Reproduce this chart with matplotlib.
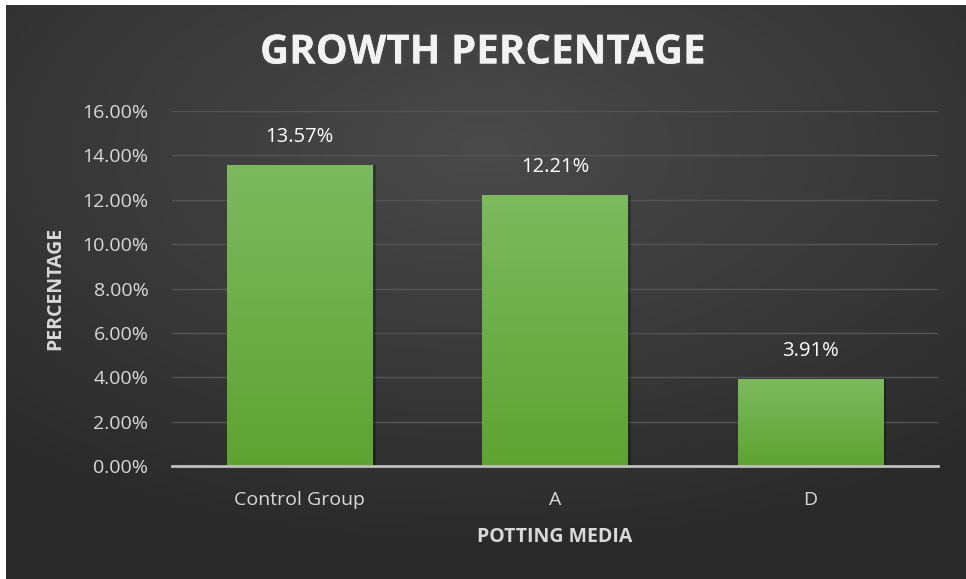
import numpy as np
import matplotlib.pyplot as plt
import matplotlib.patheffects as pe
from matplotlib.colors import LinearSegmentedColormap
from matplotlib.ticker import FuncFormatter

categories = ["Control Group", "A", "D"]
growth = [13.57, 12.21, 3.91]
yticks = [0, 2, 4, 6, 8, 10, 12, 14, 16]

plt.rcParams['font.family'] = ['Open Sans', 'DejaVu Sans']

fig = plt.figure(figsize=(9.66, 5.79), dpi=100)
fig.patch.set_facecolor('white')

# dark radial background (white strip on top/left as in reference)
bg = fig.add_axes([6 / 966, 0, 960 / 966, 574 / 579])
bg.set_axis_off()
yy, xx = np.mgrid[0:1:300j, 0:1:500j]
r = np.sqrt(((xx - 0.5) * 1.1) ** 2 + ((yy - 0.75) * 1.2) ** 2)
bg_cmap = LinearSegmentedColormap.from_list('bg', ['#4a4a4a', '#3a3a3a', '#2a2a2a'])
bg.imshow(r, cmap=bg_cmap, aspect='auto', extent=[0, 1, 0, 1], origin='lower',
          vmin=0, vmax=0.85)
bg.set_xlim(0, 1)
bg.set_ylim(0, 1)

ax = fig.add_axes([172 / 966, (579 - 466) / 579, 766 / 966, 355 / 579])
ax.patch.set_alpha(0)

x = np.arange(len(categories))
bar_cmap = LinearSegmentedColormap.from_list('bar', ['#5ea332', '#7db95e'])
grad = np.linspace(0, 1, 200).reshape(-1, 1)
bars = ax.bar(x, growth, width=0.57, color='none', zorder=3)
for b in bars:
    # soft shadow
    sh = plt.Rectangle((b.get_x() + 0.012, 0), b.get_width(), b.get_height(),
                       facecolor='black', alpha=0.25, zorder=2)
    ax.add_patch(sh)
    im = ax.imshow(grad, cmap=bar_cmap, aspect='auto', origin='lower',
                   extent=[b.get_x(), b.get_x() + b.get_width(), 0, b.get_height()],
                   zorder=3)
    im.set_clip_path(b)

for xi, v in zip(x, growth):
    ax.annotate(f"{v:.2f}%", (xi, v), xytext=(0, 20), textcoords='offset points',
                ha='center', va='center', color='white', fontsize=14.5)

ax.set_xlim(-0.5, 2.5)
ax.set_ylim(0, 16)
ax.set_yticks(yticks)
ax.yaxis.set_major_formatter(FuncFormatter(lambda v, p: f"{v:.2f}%"))
ax.set_xticks(x)
ax.set_xticklabels(categories)
ax.grid(axis='y', color='#555555', linewidth=1, zorder=0)
ax.set_axisbelow(True)
for s in ['top', 'right', 'left']:
    ax.spines[s].set_visible(False)
ax.spines['bottom'].set_color('#bfbfbf')
ax.spines['bottom'].set_linewidth(2)
ax.spines['bottom'].set_zorder(4)
ax.tick_params(axis='both', length=0, colors='#d9d9d9', labelsize=14)
ax.tick_params(axis='y', pad=17)
ax.tick_params(axis='x', pad=18)

ax.set_xlabel("POTTING MEDIA", color='#d9d9d9', fontsize=14, fontweight='bold', labelpad=13)
ax.set_ylabel("PERCENTAGE", color='#d9d9d9', fontsize=14, fontweight='bold', labelpad=12)

fig.text(0.5, 1 - 53 / 579, "GROWTH PERCENTAGE", ha='center', va='center',
         color='#f2f2f2', fontsize=29, fontweight='bold',
         path_effects=[pe.withSimplePatchShadow(offset=(1.5, -1.5), alpha=0.6),
                       pe.Normal()])

fig.savefig('out.png', dpi=100, facecolor=fig.get_facecolor())
